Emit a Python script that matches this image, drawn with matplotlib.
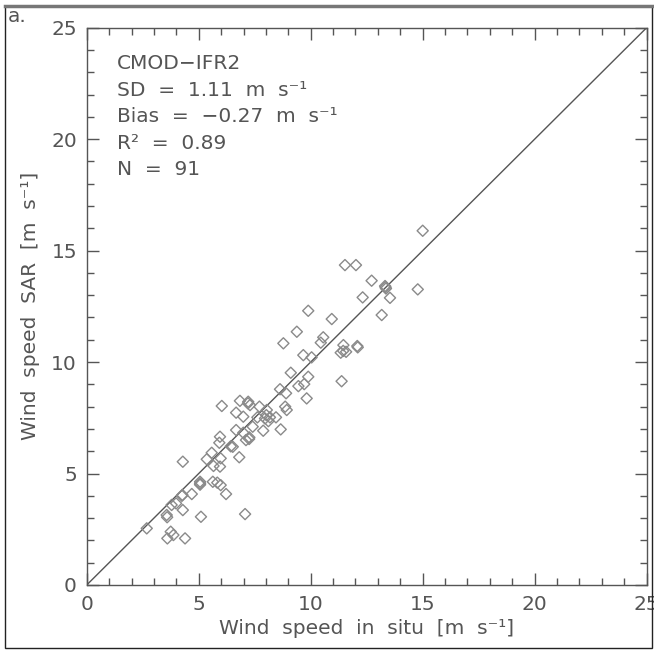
import matplotlib
matplotlib.use("Agg")
import matplotlib.pyplot as plt
from matplotlib.ticker import MultipleLocator
from matplotlib.patches import Rectangle

# Data (in situ wind speed vs SAR wind speed, m/s)
insitu = [15.0, 11.53, 12.02, 12.72, 13.32, 13.36, 12.32, 13.54, 14.78, 13.17, 10.94,
          9.89, 9.38, 8.78, 10.56, 10.45, 11.46, 11.34, 11.58, 12.08, 12.10, 9.67,
          10.04, 9.11, 9.89, 11.38, 8.63, 8.90, 9.45, 9.71, 9.82, 8.86, 8.93,
          6.03, 6.84, 7.21, 7.29, 6.67, 6.99, 7.71, 8.04, 7.96, 8.11, 8.18, 8.45,
          7.62, 7.41, 7.88, 8.66, 6.67, 6.99, 7.11, 7.26, 5.95, 5.92, 6.52, 5.58,
          5.98, 5.36, 5.66, 5.95, 6.81, 4.29, 5.06, 5.06, 5.63, 5.83, 5.98, 6.22,
          4.69, 4.27, 3.99, 3.79, 4.29, 3.57, 3.59, 5.10, 7.07, 2.68, 3.75, 3.87,
          3.60, 4.39, 6.43, 8.02, 4.25, 13.34, 11.45, 7.20, 5.06, 7.25]
sar = [15.89, 14.35, 14.35, 13.65, 13.41, 13.30, 12.90, 12.88, 13.26, 12.11, 11.93,
       12.30, 11.36, 10.84, 11.11, 10.87, 10.76, 10.42, 10.46, 10.72, 10.66, 10.31,
       10.21, 9.52, 9.34, 9.14, 8.78, 8.60, 8.92, 9.01, 8.37, 8.00, 7.85,
       8.03, 8.26, 8.22, 8.07, 7.73, 7.55, 8.00, 7.85, 7.47, 7.35, 7.52, 7.52,
       7.52, 7.10, 6.92, 6.98, 6.95, 6.83, 6.50, 6.62, 6.65, 6.38, 6.20, 5.93,
       5.68, 5.64, 5.34, 5.31, 5.73, 5.53, 4.63, 4.50, 4.63, 4.59, 4.48, 4.08,
       4.08, 4.04, 3.66, 3.59, 3.36, 3.14, 3.04, 3.06, 3.18, 2.54, 2.39, 2.24,
       2.09, 2.09, 6.22, 7.62, 4.00, 13.36, 10.50, 8.15, 4.56, 6.55]

stats_lines = ["CMOD\u2212IFR2",
               "SD  =  1.11  m  s\u207b\u00b9",
               "Bias  =  \u22120.27  m  s\u207b\u00b9",
               "R\u00b2  =  0.89",
               "N  =  91"]
xlabel = "Wind  speed  in  situ  [m  s\u207b\u00b9]"
ylabel = "Wind  speed  SAR  [m  s\u207b\u00b9]"
panel_label = "a."
axis_range = [0, 25]

txt = "#555555"
plt.rcParams['font.family'] = ['DejaVu Sans']

fig = plt.figure(figsize=(6.54, 6.51), dpi=100)
ax = fig.add_axes([0.1326, 0.1014, 0.8562, 0.8561])

ax.plot(axis_range, axis_range, color="#555555", lw=1.0, zorder=2)
ax.scatter(insitu, sar, marker="D", s=32, facecolors="none",
           edgecolors="#8a8a8a", linewidths=1.0, zorder=3)

ax.set_xlim(axis_range)
ax.set_ylim(axis_range)
ax.xaxis.set_major_locator(MultipleLocator(5))
ax.yaxis.set_major_locator(MultipleLocator(5))
ax.xaxis.set_minor_locator(MultipleLocator(1))
ax.yaxis.set_minor_locator(MultipleLocator(1))
ax.tick_params(which="both", direction="in", top=True, right=True,
               colors="#555555", labelcolor=txt, labelsize=14.5)
ax.tick_params(which="major", length=8.6, width=1.0, pad=7)
ax.tick_params(which="minor", length=5, width=1.0)
for sp in ax.spines.values():
    sp.set_color("#555555")
    sp.set_linewidth(1.0)

ax.set_xlabel(xlabel, fontsize=14.5, color=txt, labelpad=4)
ax.set_ylabel(ylabel, fontsize=14.5, color=txt, labelpad=8)

for i, line in enumerate(stats_lines):
    ax.text(1.35, 23.38 - i * 1.19, line, fontsize=14.5, color=txt,
            ha="left", va="center")

# figure frame
fig.patches.append(Rectangle((5 / 654, 3 / 651), 647 / 654, 642 / 651,
                             transform=fig.transFigure, fill=False,
                             edgecolor="#222222", lw=1.0))
fig.add_artist(plt.Line2D([5 / 654, 1.0], [1 - 6 / 651, 1 - 6 / 651],
                          transform=fig.transFigure, color="#777777", lw=2.5))
fig.text(8 / 654, 1 - 16 / 651, panel_label, fontsize=14.5, color=txt,
         ha="left", va="center")

fig.savefig("out.png", dpi=100, facecolor="white")
